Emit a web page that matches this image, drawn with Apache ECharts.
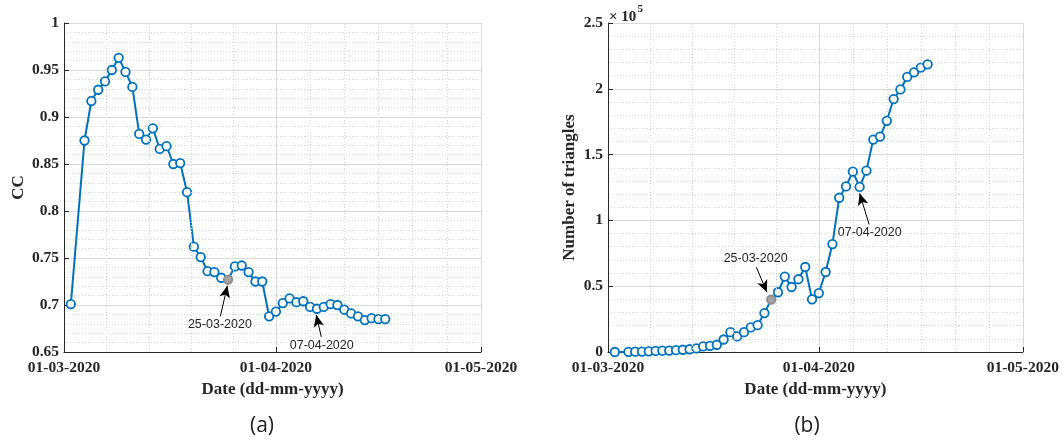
<!DOCTYPE html>
<html><head><meta charset="utf-8">
<script src="https://cdn.jsdelivr.net/npm/echarts@6/dist/echarts.min.js"></script>
<style>html,body{margin:0;padding:0;background:#fff}#c{width:1062px;height:445px}</style>
</head><body><div id="c"></div>
<script>
const dates = ['2020-03-02','2020-03-04','2020-03-05','2020-03-06','2020-03-07','2020-03-08','2020-03-09','2020-03-10',
  '2020-03-11','2020-03-12','2020-03-13','2020-03-14','2020-03-15','2020-03-16','2020-03-17','2020-03-18','2020-03-19',
  '2020-03-20','2020-03-21','2020-03-22','2020-03-23','2020-03-24','2020-03-25','2020-03-26','2020-03-27','2020-03-28',
  '2020-03-29','2020-03-30','2020-03-31','2020-04-01','2020-04-02','2020-04-03','2020-04-04','2020-04-05','2020-04-06',
  '2020-04-07','2020-04-08','2020-04-09','2020-04-10','2020-04-11','2020-04-12','2020-04-13','2020-04-14','2020-04-15',
  '2020-04-16','2020-04-17'];
const ccValues = [0.701,0.875,0.917,0.929,0.938,0.950,0.963,0.948,0.932,0.882,0.876,0.888,0.866,0.869,0.850,0.851,
  0.820,0.762,0.751,0.736,0.735,0.729,0.727,0.741,0.742,0.735,0.725,0.725,0.688,0.693,0.702,0.707,0.703,0.704,
  0.698,0.696,0.698,0.701,0.700,0.695,0.691,0.688,0.684,0.686,0.685,0.685];
const triangleValues = [0,150,250,350,500,800,1000,1100,1400,1700,2100,2700,4200,4700,5500,9500,15100,11800,15100,
  18700,20400,29600,39800,45400,57300,49400,55300,64600,40000,44800,60800,82000,117200,125800,137000,125400,
  137800,161400,163700,175700,192200,199500,209000,212500,216100,218600];
const xTickDates = ['2020-03-01','2020-04-01','2020-05-01'];
const xMinorSplits = [5, 6];
const markedDates = ['2020-03-25','2020-04-07'];
const panelLabels = ['(a)','(b)'];
const yNames = ['CC','Number of triangles'];
const xName = 'Date (dd-mm-yyyy)';
const exponentLabel = ['× 10','5'];

const DAY = 86400000;
function toTime(s){const p=s.split('-').map(Number);return new Date(p[0],p[1]-1,p[2]).getTime();}
function fmt(t){const d=new Date(t);const z=n=>(n<10?'0':'')+n;return z(d.getDate())+'-'+z(d.getMonth()+1)+'-'+d.getFullYear();}

const BLUE='#0072BD', DARK='#262626';
const serifBold={fontFamily:'Liberation Serif',fontWeight:'bold',color:DARK};
const xMin=toTime(xTickDates[0]), xMax=toTime(xTickDates[xTickDates.length-1]);
const minorTimes=[];
for(let i=0;i<xTickDates.length-1;i++){
  const a=toTime(xTickDates[i]), b=toTime(xTickDates[i+1]);
  for(let k=1;k<xMinorSplits[i];k++) minorTimes.push(a+(b-a)*k/xMinorSplits[i]);
}

function seriesData(values){
  return dates.map((d,i)=>{
    const item={value:[toTime(d),values[i]]};
    if(d===markedDates[0]) item.itemStyle={color:'#a3a3a3',borderColor:'#8c8c8c'};
    return item;
  });
}
function annotation(values, specs){
  return specs.map(s=>{
    const i=dates.indexOf(s.date); const t=toTime(s.date); const v=values[i];
    return [
      {name:fmt(t),coord:[t+s.from[0]*DAY, v+s.from[1]],symbol:'none'},
      {coord:[t+s.to[0]*DAY, v+s.to[1]],symbol:'arrow',symbolSize:[8,12]}
    ];
  });
}
function xAxis(gi){
  return {type:'time',gridIndex:gi,min:xMin,max:xMax,splitNumber:2,minInterval:28*DAY,
    name:xName,nameLocation:'middle',nameGap:27,nameTextStyle:Object.assign({fontSize:17},serifBold),
    axisLine:{show:true,onZero:false,lineStyle:{color:DARK,width:1}},
    axisTick:{show:true,inside:true,length:5,lineStyle:{color:DARK}},
    axisLabel:{show:true,showMinLabel:true,showMaxLabel:true,margin:8,fontSize:15.5,fontFamily:'Liberation Serif',fontWeight:'bold',color:DARK,formatter:v=>fmt(v)},
    splitLine:{show:true,lineStyle:{color:'#dadada',width:1}},
    minorTick:{show:false},minorSplitLine:{show:false}};
}
function yAxis(gi,min,max,interval,gap,labelFmt){
  return {type:'value',gridIndex:gi,min:min,max:max,interval:interval,
    name:yNames[gi],nameLocation:'middle',nameRotate:90,nameGap:gap,nameTextStyle:Object.assign({fontSize:17},serifBold),
    axisLine:{show:true,lineStyle:{color:DARK,width:1}},
    axisTick:{show:true,inside:true,length:5,lineStyle:{color:DARK}},
    axisLabel:{margin:5,fontSize:15.5,fontFamily:'Liberation Serif',fontWeight:'bold',color:DARK,formatter:labelFmt},
    splitLine:{show:true,lineStyle:{color:'#dadada',width:1}},
    minorTick:{show:false,splitNumber:5},
    minorSplitLine:{show:true,lineStyle:{color:'#d6d6d6',width:1,type:[1,2]}}};
}
function minorGridSeries(gi){
  return {type:'line',xAxisIndex:gi,yAxisIndex:gi,data:[],z:1,silent:true,
    markLine:{silent:true,symbol:'none',animation:false,label:{show:false},
      lineStyle:{color:'#d6d6d6',width:1,type:[1,2]},
      data:minorTimes.map(t=>({xAxis:t}))}};
}
function mainSeries(gi,values,specs){
  return {type:'line',xAxisIndex:gi,yAxisIndex:gi,data:seriesData(values),z:3,
    lineStyle:{color:BLUE,width:2},symbol:'circle',symbolSize:8.5,
    itemStyle:{color:'#ffffff',borderColor:BLUE,borderWidth:1.8},
    markLine:{silent:true,animation:false,symbol:['none','arrow'],
      lineStyle:{color:'#000',width:1,type:'solid'},
      label:{show:true,position:'start',distance:2,formatter:p=>p.name,fontFamily:'Liberation Sans',fontSize:12.5,color:DARK},
      data:annotation(values,specs)}};
}

const option={
  backgroundColor:'#ffffff',animation:false,
  grid:[{left:64,top:23,width:417,height:329},{left:608,top:23,width:416.5,height:329}],
  xAxis:[xAxis(0),xAxis(1)],
  yAxis:[yAxis(0,0.65,1,0.05,37,null),yAxis(1,0,250000,50000,30,v=>String(v/100000))],
  series:[
    minorGridSeries(0),minorGridSeries(1),
    mainSeries(0,ccValues,[
      {date:markedDates[0],from:[-1.13,-0.039],to:[-0.1,-0.0065]},
      {date:markedDates[1],from:[0.64,-0.030],to:[-0.1,-0.0065]}]),
    mainSeries(1,triangleValues,[
      {date:markedDates[0],from:[-2.18,24600],to:[-0.63,5600]},
      {date:markedDates[1],from:[1.4,-28500],to:[0.0,-4800]}])
  ],
  graphic:[
    {type:'text',x:262,y:426,style:{text:panelLabels[0],align:'center',verticalAlign:'middle',font:'21px "Open Sans"',fill:'#222'}},
    {type:'text',x:807,y:426,style:{text:panelLabels[1],align:'center',verticalAlign:'middle',font:'21px "Open Sans"',fill:'#222'}},
    {type:'text',x:609,y:17,style:{text:exponentLabel[0],align:'left',verticalAlign:'middle',font:'bold 15px "Liberation Serif"',fill:DARK}},
    {type:'text',x:637.5,y:9.5,style:{text:exponentLabel[1],align:'left',verticalAlign:'middle',font:'bold 11px "Liberation Serif"',fill:DARK}}
  ]
};
const chart=echarts.init(document.getElementById('c'),null,{renderer:'canvas'});
chart.setOption(option);
</script></body></html>
